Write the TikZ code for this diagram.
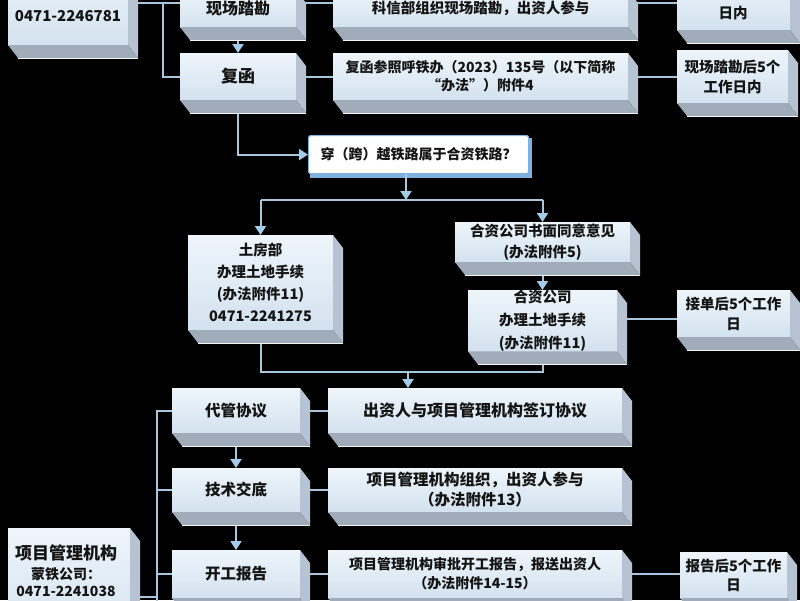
\documentclass[tikz,border=0pt]{standalone}
\usepackage{fontspec}
\newfontfamily\cjk{Noto Sans CJK SC}
\usetikzlibrary{arrows.meta,calc}
\pgfdeclarelayer{back}
\pgfdeclarelayer{wires}
\pgfsetlayers{back,wires,main}
\definecolor{facetop}{HTML}{EEF5FB}
\definecolor{facebot}{HTML}{D3E2EF}
\definecolor{sidec}{HTML}{B7C3D2}
\definecolor{botc}{HTML}{A1ACBA}
\definecolor{wire}{HTML}{A9C6DF}
\definecolor{tipc}{HTML}{A3CBEA}
\definecolor{decb}{HTML}{7FB2E0}
\definecolor{ink}{HTML}{141414}
\newcommand\fs[2]{\cjk\bfseries\fontsize{#1}{#2}\selectfont}
\tikzset{
  face/.style={shape=rectangle, inner sep=0pt, outer sep=0pt, top color=facetop, bottom color=facebot,
    anchor=north west, align=center, text=ink, font={\fs{14.5}{20}}},
  txt/.style={inner sep=0pt, text=ink, align=center, font={\fs{14.5}{20}}},
  conn/.style={draw=wire, line width=2pt},
  arr/.style={conn, -{Triangle[length=9pt,width=11pt,color=tipc,fill=tipc]}},
  decbox/.style={shape=rectangle, rounded corners=2pt, draw=decb, line width=1.2pt, fill=white,
    inner sep=0pt, anchor=north west, text=ink, font={\fs{14}{20}}},
}
% #1 options, #2 name, #3 x, #4 y, #5 width, #6 height, #7 text
\newcommand\bevbox[7][]{%
  \node[face, minimum width=#5pt, minimum height=#6pt, #1] (#2) at (#3,#4) {#7};
  \fill[sidec] (#2.north east) -- ++(10,13) -- ($(#2.south east)+(10,13)$) -- (#2.south east) -- cycle;
  \fill[botc] (#2.south west) -- (#2.south east) -- ($(#2.south east)+(10,13)$) -- ($(#2.south west)+(10,13)$) -- cycle;
  \draw[white!85!botc, line width=0.6pt] ($(#2.south west)+(10,13)$) -- ($(#2.south east)+(10,13)$);
}
\begin{document}
\begin{tikzpicture}[x=1pt,y=-1pt]
\useasboundingbox (0,0) rectangle (800,600);
\begin{pgfonlayer}{back}
  \fill[black] (0,0) rectangle (800,600);
\end{pgfonlayer}

% top row
\bevbox{tl}{8}{-40}{120}{85}{}
\node[txt, font={\fs{15}{20}}] (tlt) at (68,16) {0471-2246781};
\bevbox[font={\fs{16}{20}}]{xc}{180}{-10}{116}{37}{现场踏勘}
\bevbox[font={\fs{14.5}{20}}]{kx}{333}{-10}{295}{37}{科信部组织现场踏勘，出资人参与}
\bevbox{r1}{677}{-25}{113}{55}{}
\node[txt] (r1t) at (733,13) {日内};

% second row
\bevbox[font={\fs{17}{20}}]{fh}{180}{53}{116}{47}{复函}
\bevbox[font={\fs{14}{18}}]{fz}{333}{53}{295}{47}{复函参照呼铁办（2023）135号（以下简称\\“办法”）附件4}
\bevbox[font={\fs{14.5}{20}}]{r2}{677}{50}{111}{53}{现场踏勘后5个\\工作日内}

% decision
\node[decbox, minimum width=220pt, minimum height=38pt] (dec) at (308,135) {穿（跨）越铁路属于合资铁路？};

% branches
\bevbox[font={\fs{14.5}{22}}]{tf}{188}{235}{145}{95}{土房部\\办理土地手续\\(办法附件11)\\0471-2241275}
\bevbox[font={\fs{14.5}{21}}]{hz1}{455}{222}{175}{40}{合资公司书面同意意见\\(办法附件5)}
\bevbox[font={\fs{14.5}{23}}]{hz2}{468}{290}{149}{60}{合资公司\\办理土地手续\\(办法附件11)}
\bevbox[font={\fs{14.5}{20}}]{jd}{677}{290}{113}{47}{接单后5个工作\\日}

% lower rows
\bevbox[font={\fs{15.5}{20}}]{dg}{172}{388}{128}{45}{代管协议}
\bevbox[font={\fs{16}{20}}]{cz}{328}{388}{294}{45}{出资人与项目管理机构签订协议}
\bevbox[font={\fs{15.5}{20}}]{js}{172}{468}{128}{44}{技术交底}
\bevbox[font={\fs{15.5}{20}}]{xm}{328}{468}{294}{44}{项目管理机构组织，出资人参与\\（办法附件13）}
\bevbox[font={\fs{15.5}{20}}]{kg}{172}{550}{128}{48}{开工报告}
\bevbox[font={\fs{14}{19}}]{sp}{328}{550}{294}{48}{项目管理机构审批开工报告，报送出资人\\（办法附件14-15）}
\bevbox[font={\fs{14.5}{19}}]{bg}{680}{552}{107}{46}{报告后5个工作\\日}

% bottom-left box
\bevbox{xj}{8}{528}{122}{110}{}
\node[txt, font={\fs{17}{20}}] (xjt1) at (66,553) {项目管理机构};
\node[txt, font={\fs{14}{20}}] (xjt2) at (66,574) {蒙铁公司：};
\node[txt, font={\fs{14}{20}}] (xjt3) at (66,591) {0471-2241038};

\begin{pgfonlayer}{wires}
  \fill[decb] ($(dec.north west)+(2,3)$) rectangle ($(dec.south east)+(3,4)$);
  \coordinate (r1y) at (0,2.5);
  \draw[conn] (tl.east) -- (tl.east -| xc.west);
  \coordinate (b1) at (163,2.5);
  \draw[conn] (b1) |- (fh.west);
  \draw[arr] (xc.south) -- (fh.north);
  \draw[conn] (r1y -| xc.east) -- (r1y -| kx.west);
  \draw[conn] (r1y -| kx.east) -- (r1y -| r1.west);
  \draw[conn] (fh.east) -- (fz.west);
  \draw[conn] (fz.east) -- (r2.west |- fz.east);
  \draw[arr] (fh.south) |- (dec.west);
  \coordinate (split) at (406,200);
  \draw[arr] (split |- dec.south) -- (split);
  \draw[conn] (tf.north |- split) -- (hz1.north |- split);
  \draw[arr] (tf.north |- split) -- (tf.north);
  \draw[arr] (hz1.north |- split) -- (hz1.north);
  \draw[arr] (hz1.south) -- (hz2.north);
  \coordinate (jdl) at ($(hz2.east)+(0,-2)$);
  \draw[conn] (jdl) -- (jdl -| jd.west);
  \coordinate (mg) at (408,372);
  \draw[conn] (tf.south) |- (mg) -| (hz2.south);
  \draw[arr] (mg) -- (mg |- cz.north);
  \draw[conn] (dg.east) -- (cz.west);
  \draw[arr] (dg.south) -- (js.north);
  \draw[arr] (js.south) -- (kg.north);
  \draw[conn] (js.east) -- (xm.west);
  \draw[conn] (kg.east) -- (sp.west);
  \draw[conn] (sp.east) -- (sp.east -| bg.west);
  \coordinate (b2) at (157,620);
  \draw[conn] (dg.west) -| (b2);
  \draw[conn] (js.west) -- (js.west -| b2);
  \draw[conn] (kg.west) -- (kg.west -| b2);
  \coordinate (b2c) at (157,597);
  \draw[conn] (xj.east |- b2c) -- (b2c);
\end{pgfonlayer}
\end{tikzpicture}
\end{document}
